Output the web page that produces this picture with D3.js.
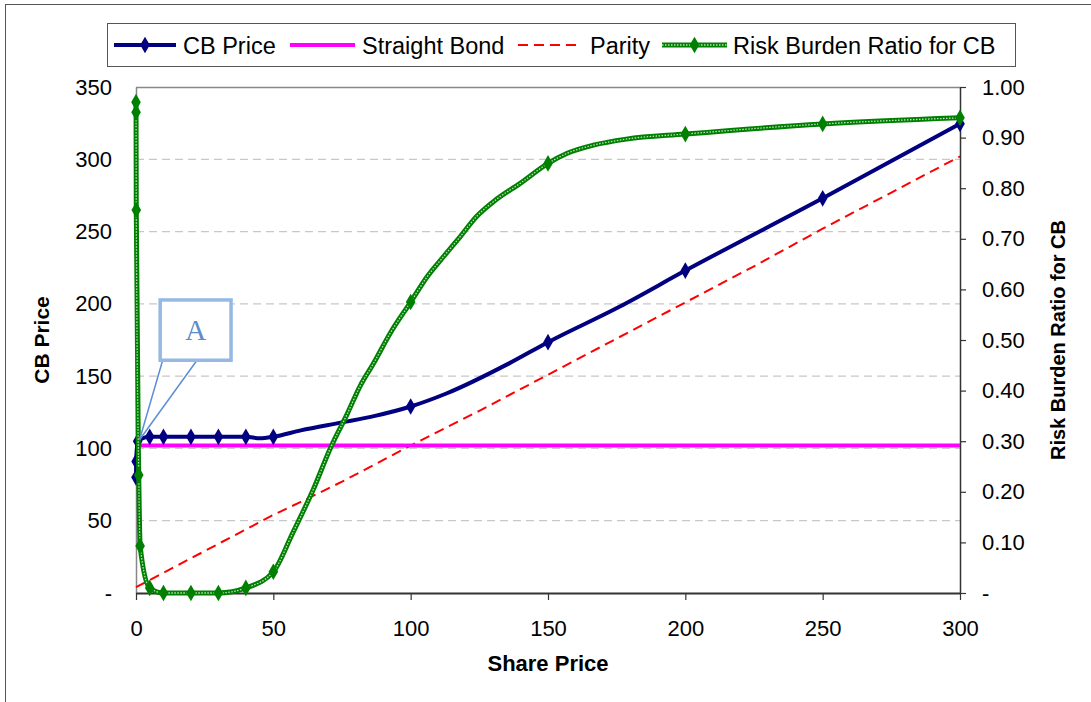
<!DOCTYPE html>
<html><head><meta charset="utf-8">
<script src="https://cdn.jsdelivr.net/npm/d3@7"></script>
<style>
html,body{margin:0;padding:0;background:#fff;}
svg{display:block;font-family:"Liberation Sans",Arial,sans-serif;}
</style></head><body>
<svg id="c" width="1091" height="702"></svg>
<script>
// ---------- data ----------
const xTicks = [0, 50, 100, 150, 200, 250, 300];
const leftTicks = [0, 50, 100, 150, 200, 250, 300, 350];
const rightTicks = [0, 0.1, 0.2, 0.3, 0.4, 0.5, 0.6, 0.7, 0.8, 0.9, 1.0];
const seriesNames = ["CB Price", "Straight Bond", "Parity", "Risk Burden Ratio for CB"];

// [share price, CB price]
const cbPrice = [[0,80],[0.05,91],[0.6,105],[5,108],[10,108],[20,108],[30,108],[40,108],[45,107],[50,108],
  [60,112.5],[75,118],[87,122.5],[100,129],[113,138],[136,159],[150,173.5],[176,198],[200,223],[250,273],[300,324.5]];
const cbPriceMarked = [0,0.05,0.6,5,10,20,30,40,50,100,150,200,250,300];

const straightBond = [[0,102],[300,102]];

const parity = [[0,4],[10,14],[20,24],[30,34],[40,44],[50,54],[60,63],[75,77],[100,102],[125,126],
  [150,151],[175,176],[200,201],[225,226],[250,252],[275,277],[300,302]];

// [share price, risk burden ratio]
const riskBurden = [[0,0.97],[0.02,0.95],[0.1,0.757],[1,0.233],[1.5,0.093],[5,0.01],[10,0],[20,0],[30,0],[40,0.01],[50,0.042],
  [57,0.118],[64.5,0.204],[71,0.289],[77,0.355],[81.5,0.408],[86.5,0.454],[92.5,0.513],[100,0.575],
  [106,0.625],[112,0.665],[118,0.704],[124,0.744],[131,0.777],[140,0.81],[150,0.849],[157,0.869],
  [166.5,0.885],[178.5,0.897],[200,0.907],[250,0.927],[300,0.939]];
const riskBurdenMarked = [0,0.02,0.1,1,1.5,5,10,20,30,40,50,100,150,200,250,300];

// callout "A": box corners in data units, and the point it marks
const calloutText = "A";
const calloutBox = {x0: 8.8, x1: 34.6, y0: 161, y1: 202.7};
const calloutTarget = [1.3, 106];

// ---------- layout ----------
const svg = d3.select("#c");
const L = 136, R = 960, T = 87, B = 593;
const x = d3.scaleLinear().domain([0, 300]).range([L, R]);
const yL = d3.scaleLinear().domain([0, 350]).range([B, T]);
const yR = d3.scaleLinear().domain([0, 1]).range([B, T]);

// outer border (chart area, cropped)
svg.append("rect").attr("x", 5.5).attr("y", 4.5).attr("width", 1200).attr("height", 800)
  .attr("fill", "#fff").attr("stroke", "#555").attr("stroke-width", 1);

// gridlines
svg.append("g").selectAll("line").data(leftTicks.filter(d => d > 0 && d < 350)).join("line")
  .attr("x1", L).attr("x2", R).attr("y1", d => yL(d)).attr("y2", d => yL(d))
  .attr("stroke", "#c8c8c8").attr("stroke-width", 1.2).attr("stroke-dasharray", "8,5");

// plot frame top + left
svg.append("line").attr("x1", L).attr("x2", R).attr("y1", T + 0.5).attr("y2", T + 0.5).attr("stroke", "#888").attr("stroke-width", 1.5);

// left axis
const gL = svg.append("g").attr("transform", `translate(${L},0)`)
  .call(d3.axisLeft(yL).tickValues(leftTicks).tickSize(0).tickPadding(24).tickFormat(d => d === 0 ? "-" : d));
gL.select(".domain").attr("stroke", "#888").attr("stroke-width", 1.5);
gL.selectAll("text").attr("font-size", 22).attr("fill", "#000").attr("font-family", "Liberation Sans, Arial");

// right axis
const gR = svg.append("g").attr("transform", `translate(${R},0)`)
  .call(d3.axisRight(yR).tickValues(rightTicks).tickSizeInner(6).tickSizeOuter(0).tickPadding(16)
    .tickFormat(d => d === 0 ? "-" : d3.format(".2f")(d)));
gR.select(".domain").attr("stroke", "#333").attr("stroke-width", 1.5);
gR.selectAll("line").attr("stroke", "#333").attr("stroke-width", 1.2);
gR.selectAll("text").attr("font-size", 22).attr("fill", "#000").attr("font-family", "Liberation Sans, Arial");

// bottom axis
const gB = svg.append("g").attr("transform", `translate(0,${B})`)
  .call(d3.axisBottom(x).tickValues(xTicks).tickSizeInner(7).tickSizeOuter(0).tickPadding(20));
gB.select(".domain").attr("stroke", "#333").attr("stroke-width", 2);
gB.selectAll("line").attr("stroke", "#333").attr("stroke-width", 1.2);
gB.selectAll("text").attr("font-size", 22).attr("fill", "#000").attr("font-family", "Liberation Sans, Arial");

// axis titles
svg.append("text").attr("transform", `translate(49,${(T + B) / 2}) rotate(-90)`).attr("text-anchor", "middle")
  .attr("font-size", 21).attr("font-weight", "bold").text("CB Price");
svg.append("text").attr("transform", `translate(1065,${(T + B) / 2}) rotate(-90)`).attr("text-anchor", "middle")
  .attr("font-size", 20).attr("font-weight", "bold").text("Risk Burden Ratio for CB");
svg.append("text").attr("x", (L + R) / 2).attr("y", 671).attr("text-anchor", "middle")
  .attr("font-size", 22).attr("font-weight", "bold").text("Share Price");

// ---------- series ----------
const plot = svg.append("g");
const diamond = d3.symbol().type(d3.symbolDiamond).size(80);

// parity
plot.append("path").datum(parity).attr("fill", "none").attr("stroke", "#ff0000").attr("stroke-width", 2)
  .attr("stroke-dasharray", "10,6")
  .attr("d", d3.line().x(d => x(d[0])).y(d => yL(d[1])));

// straight bond
plot.append("path").datum(straightBond).attr("fill", "none").attr("stroke", "#ff00ff").attr("stroke-width", 4)
  .attr("d", d3.line().x(d => x(d[0])).y(d => yL(d[1])));

// CB price
plot.append("path").datum(cbPrice).attr("fill", "none").attr("stroke", "#000080").attr("stroke-width", 4)
  .attr("stroke-linejoin", "round")
  .attr("d", d3.line().curve(d3.curveMonotoneX).x(d => x(d[0])).y(d => yL(d[1])));
plot.append("g").selectAll("path").data(cbPrice.filter(d => cbPriceMarked.includes(d[0]))).join("path")
  .attr("transform", d => `translate(${x(d[0])},${yL(d[1])})`).attr("d", diamond).attr("fill", "#000080");

// risk burden ratio (textured green line)
const rbLine = d3.line().curve(d3.curveMonotoneX).x(d => x(d[0])).y(d => yR(d[1]));
plot.append("path").datum(riskBurden).attr("fill", "none").attr("stroke", "#008000").attr("stroke-width", 5)
  .attr("stroke-linejoin", "round").attr("d", rbLine);
plot.append("path").datum(riskBurden).attr("fill", "none").attr("stroke", "#ffffff").attr("stroke-opacity", 0.75)
  .attr("stroke-width", 1.3).attr("stroke-dasharray", "1.5,1.5").attr("d", rbLine);
plot.append("g").selectAll("path").data(riskBurden.filter(d => riskBurdenMarked.includes(d[0]))).join("path")
  .attr("transform", d => `translate(${x(d[0])},${yR(d[1])})`).attr("d", diamond).attr("fill", "#008000");

// ---------- callout ----------
const cb = svg.append("g");
const bx0 = x(calloutBox.x0), bx1 = x(calloutBox.x1), by0 = yL(calloutBox.y1), by1 = yL(calloutBox.y0);
const tx = x(calloutTarget[0]), ty = yL(calloutTarget[1]);
cb.append("line").attr("x1", bx0 + 2.5).attr("y1", by1).attr("x2", tx).attr("y2", ty).attr("stroke", "#5b8ed6").attr("stroke-width", 1.5);
cb.append("line").attr("x1", bx0 + (bx1 - bx0) * 0.52).attr("y1", by1).attr("x2", tx).attr("y2", ty).attr("stroke", "#5b8ed6").attr("stroke-width", 1.5);
cb.append("rect").attr("x", bx0).attr("y", by0).attr("width", bx1 - bx0).attr("height", by1 - by0)
  .attr("fill", "#fff").attr("stroke", "#95b8e4").attr("stroke-width", 3.5);
cb.append("text").attr("x", (bx0 + bx1) / 2).attr("y", (by0 + by1) / 2 + 10).attr("text-anchor", "middle")
  .attr("font-family", "Liberation Serif, Times New Roman, serif").attr("font-size", 29).attr("fill", "#5f8cc9")
  .text(calloutText);

// ---------- legend ----------
const lg = svg.append("g");
lg.append("rect").attr("x", 107.5).attr("y", 23.5).attr("width", 908).attr("height", 43)
  .attr("fill", "#fff").attr("stroke", "#555").attr("stroke-width", 1);
const legendItems = [
  {name: seriesNames[0], x0: 114, x1: 176, tx: 183, color: "#000080", w: 4, dash: null, marker: true, texture: false},
  {name: seriesNames[1], x0: 290, x1: 355, tx: 362, color: "#ff00ff", w: 4, dash: null, marker: false, texture: false},
  {name: seriesNames[2], x0: 518, x1: 582, tx: 590, color: "#ff0000", w: 2, dash: "10,6", marker: false, texture: false},
  {name: seriesNames[3], x0: 662, x1: 727, tx: 733, color: "#008000", w: 5, dash: null, marker: true, texture: true}
];
const ly = 45;
legendItems.forEach(it => {
  lg.append("line").attr("x1", it.x0).attr("x2", it.x1).attr("y1", ly).attr("y2", ly)
    .attr("stroke", it.color).attr("stroke-width", it.w).attr("stroke-dasharray", it.dash);
  if (it.texture) {
    lg.append("line").attr("x1", it.x0).attr("x2", it.x1).attr("y1", ly).attr("y2", ly)
      .attr("stroke", "#fff").attr("stroke-opacity", 0.75).attr("stroke-width", 1.3).attr("stroke-dasharray", "1.5,1.5");
  }
  if (it.marker) {
    lg.append("path").attr("transform", `translate(${(it.x0 + it.x1) / 2},${ly})`).attr("d", diamond).attr("fill", it.color);
  }
  lg.append("text").attr("x", it.tx).attr("y", ly + 8.5).attr("font-size", 23.5).attr("fill", "#000").text(it.name);
});
</script>
</body></html>
